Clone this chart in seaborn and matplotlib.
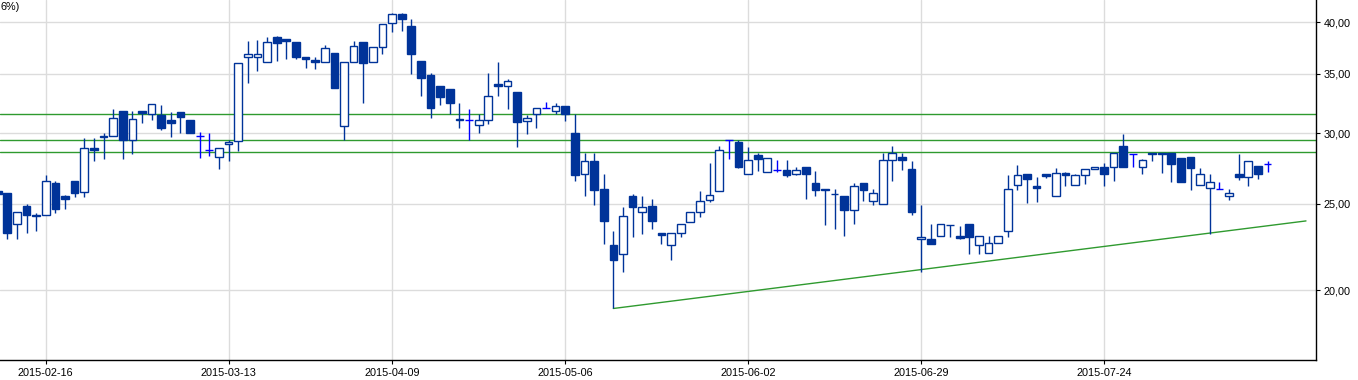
import matplotlib
matplotlib.use("Agg")
import matplotlib.pyplot as plt
import seaborn as sns
import pandas as pd
from matplotlib.ticker import FixedLocator, FuncFormatter, NullLocator

# ---------------- data ----------------
opens = [25.86, 25.71, 23.70, 24.86, 24.27, 24.26, 26.38, 25.51, 26.54, 25.79,
         28.88, 29.69, 29.77, 31.79, 29.49, 31.79, 31.54, 31.46, 31.03, 31.70,
         31.05, 29.77, 28.71, 28.19, 29.21, 29.39, 36.52, 36.52, 36.05, 38.47,
         38.30, 37.97, 36.52, 36.24, 36.05, 36.90, 30.60, 36.05, 37.97, 36.05,
         37.48, 39.89, 40.83, 39.58, 36.15, 34.86, 33.88, 33.62, 31.16, 31.07,
         30.63, 31.03, 34.06, 33.94, 33.39, 30.95, 31.51, 32.01, 31.76, 32.17,
         30.03, 26.98, 27.90, 25.97, 22.47, 21.93, 25.49, 24.45, 24.83, 23.16,
         22.45, 23.16, 23.83, 24.45, 25.22, 25.82, 29.46, 29.31, 26.98, 28.36,
         27.17, 27.26, 27.26, 26.98, 27.47, 26.36, 25.97, 25.66, 25.49, 24.58,
         26.36, 25.16, 24.96, 27.98, 28.19, 27.33, 22.80, 22.80, 22.98, 23.68,
         22.98, 23.76, 22.45, 21.99, 22.62, 23.28, 26.22, 26.98, 26.15, 26.98,
         25.53, 27.05, 26.22, 26.91, 27.33, 27.47, 27.47, 29.03, 28.41, 27.47,
         28.49, 28.49, 28.49, 28.12, 28.19, 26.22, 26.02, 25.95, 25.49, 26.98,
         26.77, 27.54, 27.69]
highs = [25.90, 25.71, 24.45, 24.98, 24.43, 26.96, 26.54, 25.57, 26.54, 29.64,
         29.64, 30.05, 31.95, 31.79, 31.79, 31.79, 32.34, 32.28, 31.70, 31.70,
         31.05, 30.10, 30.05, 28.88, 29.49, 35.99, 38.10, 38.20, 38.53, 38.60,
         38.30, 37.97, 36.52, 36.52, 37.71, 36.90, 36.05, 38.10, 37.97, 37.48,
         39.78, 40.93, 40.93, 40.30, 36.15, 35.04, 33.88, 33.62, 32.48, 31.98,
         31.51, 35.07, 36.09, 34.53, 33.39, 31.46, 32.01, 32.54, 32.45, 32.17,
         31.51, 28.54, 28.54, 27.00, 23.32, 24.77, 25.66, 25.49, 25.29, 23.16,
         23.16, 23.70, 24.45, 25.86, 27.81, 29.06, 29.46, 29.46, 28.98, 28.49,
         28.12, 28.00, 28.00, 27.50, 27.47, 27.21, 25.97, 26.00, 25.49, 26.38,
         26.36, 25.95, 28.54, 29.06, 28.54, 27.90, 24.94, 23.76, 23.76, 23.68,
         23.58, 23.76, 22.98, 22.98, 22.98, 26.93, 27.64, 26.98, 26.79, 26.98,
         27.40, 27.14, 27.03, 27.33, 27.47, 27.76, 28.54, 29.98, 28.41, 28.10,
         28.49, 28.49, 28.49, 28.12, 28.19, 27.40, 26.98, 26.47, 25.95, 28.41,
         27.90, 27.54, 27.90]
lows = [25.60, 22.84, 22.84, 23.16, 23.28, 24.26, 24.43, 24.68, 25.46, 25.46,
        27.95, 28.10, 29.77, 28.10, 28.46, 30.84, 31.05, 30.29, 29.74, 30.05,
        30.05, 28.17, 28.32, 27.38, 27.93, 28.68, 34.15, 35.25, 36.05, 36.21,
        36.40, 36.40, 35.56, 35.47, 36.05, 33.77, 29.46, 36.05, 32.48, 36.05,
        36.81, 39.03, 39.14, 35.01, 33.07, 31.24, 32.31, 31.57, 30.44, 29.46,
        30.05, 30.76, 33.07, 31.98, 28.98, 29.98, 30.44, 32.01, 31.51, 31.00,
        26.54, 25.53, 24.94, 22.55, 19.07, 20.97, 22.96, 23.14, 23.44, 22.55,
        21.63, 22.96, 23.83, 24.18, 25.14, 25.82, 28.10, 27.45, 26.98, 27.24,
        27.17, 27.17, 26.82, 26.91, 25.33, 25.53, 23.68, 23.44, 23.02, 23.74,
        25.20, 24.94, 24.96, 26.54, 27.31, 24.26, 20.97, 22.51, 22.98, 22.96,
        22.84, 21.97, 21.97, 21.99, 22.62, 22.96, 25.93, 25.07, 25.14, 26.75,
        25.53, 26.20, 26.22, 26.31, 27.33, 26.20, 26.54, 27.47, 27.47, 26.98,
        27.95, 27.10, 26.45, 26.47, 25.93, 26.22, 23.10, 25.95, 25.27, 26.56,
        26.20, 26.68, 27.12]
closes = [25.64, 23.20, 24.45, 24.30, 24.25, 26.54, 24.68, 25.33, 25.68, 28.86,
          28.76, 29.79, 31.22, 29.51, 31.11, 31.59, 32.34, 30.44, 30.84, 31.27,
          30.05, 29.77, 28.71, 28.88, 29.36, 35.99, 36.84, 36.84, 37.97, 37.87,
          38.07, 36.52, 36.40, 36.05, 37.39, 33.77, 36.05, 37.58, 35.96, 37.48,
          39.78, 40.83, 40.30, 36.87, 34.65, 32.06, 32.99, 32.48, 31.03, 31.07,
          31.03, 33.02, 33.94, 34.35, 30.92, 31.22, 32.01, 32.01, 32.17, 31.57,
          26.96, 27.90, 25.93, 23.93, 21.63, 24.20, 24.81, 24.81, 23.93, 23.08,
          23.16, 23.70, 24.45, 25.16, 25.55, 28.71, 29.46, 27.52, 27.98, 28.10,
          28.12, 27.26, 26.96, 27.26, 26.98, 25.93, 25.93, 25.62, 24.62, 26.15,
          25.93, 25.68, 27.98, 28.54, 27.98, 24.45, 22.96, 22.51, 23.70, 23.64,
          22.88, 22.96, 22.98, 22.62, 22.98, 25.95, 26.91, 26.68, 26.06, 26.89,
          27.05, 26.96, 26.91, 27.33, 27.47, 26.98, 28.54, 27.47, 28.41, 27.98,
          28.45, 28.45, 27.74, 26.47, 27.45, 26.98, 26.47, 25.95, 25.68, 26.77,
          27.90, 26.98, 27.69]

first_day = "2015-02-09"
last_day = "2015-08-24"
holidays = ["2015-04-03", "2015-04-06", "2015-05-01", "2015-06-04"]
tick_dates = ["2015-02-16", "2015-03-13", "2015-04-09", "2015-05-06",
              "2015-06-02", "2015-06-29", "2015-07-24"]
y_ticks = [20, 25, 30, 35, 40]
levels = [31.52, 29.47, 28.57]
trend_dates = ["2015-05-13", "2015-08-24"]
trend_values = [19.07, 23.92]
title_text = "6%)"

# ---------------- styling ----------------
sns.set_theme(style="white")
plt.rcParams["font.family"] = ["Liberation Sans", "DejaVu Sans"]
FS = 7.8
DARK = "#003399"
BRIGHT = "#0000ff"
GREEN = "#2f9a2f"
GRID = "#dcdcdc"

calendar = [d.strftime("%Y-%m-%d") for d in pd.bdate_range(first_day, last_day)
            if d.strftime("%Y-%m-%d") not in holidays]
pos_of = {d: i for i, d in enumerate(calendar)}
n = len(opens)
xs = list(range(n))

fig = plt.figure(figsize=(13.58, 3.8), dpi=100)
ax = fig.add_axes([0, 20 / 380, 1316 / 1358, 360 / 380])
ax.set_yscale("log")

# grid
for t in y_ticks:
    ax.axhline(t, color=GRID, lw=1.0, zorder=0)
for d in tick_dates:
    ax.axvline(pos_of[d], color=GRID, lw=1.0, zorder=0)

# support / resistance lines
for lv in levels:
    ax.axhline(lv, color=GREEN, lw=1.0, zorder=1)
sns.lineplot(x=[pos_of[d] for d in trend_dates], y=trend_values, ax=ax,
             color=GREEN, lw=1.0, zorder=1)

W = 0.8
for i in xs:
    o, h, l, c = opens[i], highs[i], lows[i], closes[i]
    if o == c:
        ax.vlines(i, l, h, color=BRIGHT, lw=1.0, zorder=2)
        ax.hlines(o, i - W / 2, i + W / 2, color=BRIGHT, lw=1.0, zorder=3)
        continue
    ax.vlines(i, l, h, color=DARK, lw=1.0, zorder=2)
    lo, hi = min(o, c), max(o, c)
    face = DARK if c < o else "white"
    ax.bar(i, hi - lo, bottom=lo, width=W, color=face, edgecolor=DARK,
           linewidth=1.0, zorder=3)

ax.set_xlim(0.24, 137.04)
ax.set_ylim(16.69, 42.37)

ax.yaxis.tick_right()
ax.yaxis.set_major_locator(FixedLocator(y_ticks))
ax.yaxis.set_minor_locator(NullLocator())
ax.yaxis.set_major_formatter(FuncFormatter(lambda v, p: f"{v:.2f}".replace(".", ",")))
ax.set_xticks([pos_of[d] for d in tick_dates])
ax.set_xticklabels(tick_dates)
ax.tick_params(axis="both", which="major", direction="out", length=3, width=0.8,
               color="black", labelsize=FS, labelcolor="black", pad=2.5)
ax.tick_params(axis="y", right=True, left=False, labelright=True, labelleft=False)
ax.tick_params(axis="x", bottom=True)

for s in ["left", "top"]:
    ax.spines[s].set_visible(False)
for s in ["right", "bottom"]:
    ax.spines[s].set_visible(True)
    ax.spines[s].set_color("black")
    ax.spines[s].set_linewidth(1.0)
ax.set_xlabel("")
ax.set_ylabel("")

fig.text(0.8 / 1358, 1 - 7 / 380, title_text, ha="left", va="center",
         fontsize=FS, color="black")

fig.savefig("out.png", dpi=100, facecolor="white")
